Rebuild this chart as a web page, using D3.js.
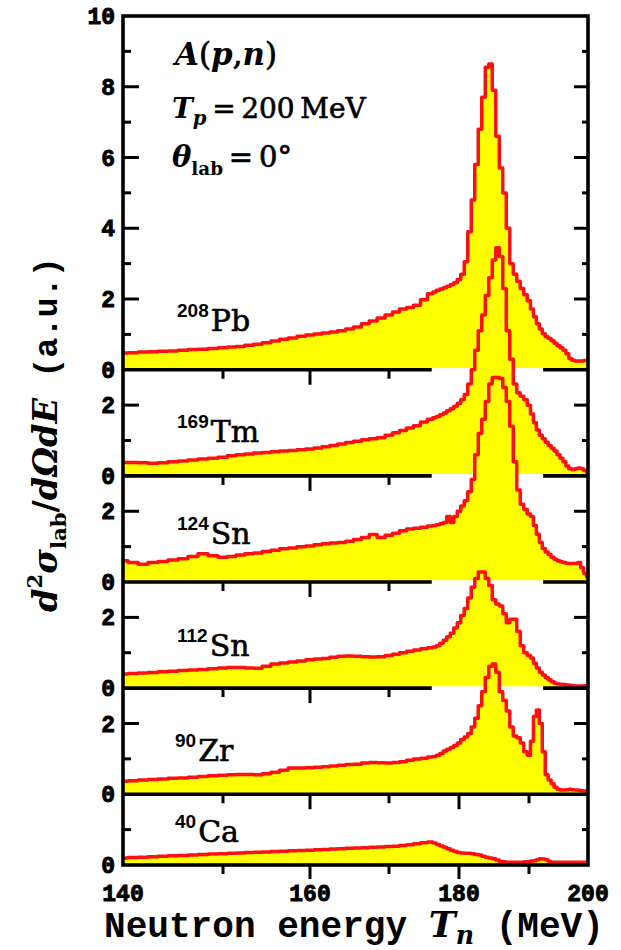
<!DOCTYPE html>
<html>
<head>
<meta charset="utf-8">
<script src="https://cdn.jsdelivr.net/npm/d3@7"></script>
<style>
  html, body { margin: 0; padding: 0; background: #fff; }
  svg { display: block; }
</style>
</head>
<body>
<svg id="chart" width="621" height="950"></svg>
<script>
// ---- data: neutron spectra A(p,n), Tp = 200 MeV, 0 deg ----
const energy = [
  140,141,142,143,144,145,146,147,148,149,150,151,152,153,154,155,156,157,158,159,
  160,161,162,163,164,165,166,167,168,169,170,171,172,173,174,175,176,
  176.5,177,177.5,178,178.5,179,179.5,180,180.5,181,181.5,182,182.5,183,183.5,184,
  184.5,185,185.5,186,186.5,187,187.5,188,188.5,189,189.5,190,190.5,191,191.5,192,
  192.5,193,193.5,194,194.5,195,195.5,196,196.5,197,197.5,198,198.5,199,199.5,200
];

const pb208 = [
  0.47,0.48,0.50,0.51,0.52,0.53,0.55,0.57,0.58,0.60,
  0.62,0.64,0.66,0.69,0.72,0.76,0.81,0.86,0.90,0.95,
  0.98,1.01,1.04,1.07,1.10,1.15,1.21,1.30,1.38,1.46,
  1.55,1.63,1.72,1.76,1.82,1.98,2.15,
  2.20,2.25,2.28,2.32,2.36,2.40,2.46,2.55,2.70,3.05,3.90,4.80,5.80,6.80,7.70,8.55,
  8.64,7.90,6.60,5.70,5.00,4.00,3.00,2.70,2.50,2.30,2.12,1.95,1.72,1.50,1.30,1.15,
  1.02,0.93,0.88,0.82,0.75,0.68,0.62,0.55,0.45,0.32,0.27,0.25,0.25,0.25,0.26,0.27
];

const tm169 = [
  0.38,0.38,0.37,0.36,0.37,0.40,0.42,0.45,0.48,0.50,
  0.53,0.57,0.60,0.62,0.65,0.66,0.68,0.70,0.72,0.74,
  0.76,0.79,0.82,0.86,0.90,0.94,0.98,1.02,1.05,1.08,
  1.15,1.22,1.28,1.35,1.42,1.52,1.60,
  1.64,1.68,1.73,1.78,1.84,1.90,1.97,2.05,2.15,2.30,2.60,3.00,3.55,4.10,4.55,5.10,
  5.60,6.10,6.45,6.20,5.30,4.10,3.30,2.60,2.35,2.25,2.15,2.00,1.75,1.50,1.30,1.15,
  1.05,0.95,0.86,0.78,0.70,0.60,0.50,0.40,0.28,0.20,0.18,0.20,0.22,0.20,0.15,0.10
];

const sn124 = [
  0.60,0.55,0.50,0.55,0.58,0.62,0.66,0.72,0.80,0.74,
  0.70,0.72,0.76,0.80,0.82,0.86,0.90,0.94,0.96,1.00,
  1.02,1.05,1.08,1.10,1.12,1.15,1.20,1.26,1.34,1.26,
  1.32,1.38,1.45,1.50,1.52,1.55,1.58,
  1.60,1.62,1.65,1.68,1.85,1.68,1.85,2.00,2.15,2.30,2.55,2.90,3.60,4.20,4.60,5.10,
  5.60,5.78,5.78,5.75,5.50,5.10,4.40,3.40,2.60,2.20,2.05,1.92,1.85,1.60,1.35,1.12,
  0.95,0.85,0.78,0.70,0.64,0.60,0.57,0.55,0.53,0.52,0.52,0.52,0.55,0.40,0.25,0.15
];

const sn112 = [
  0.40,0.41,0.43,0.44,0.46,0.48,0.50,0.51,0.53,0.55,
  0.57,0.58,0.58,0.57,0.56,0.62,0.68,0.71,0.74,0.77,
  0.80,0.82,0.84,0.87,0.90,0.91,0.90,0.89,0.88,0.89,
  0.92,0.96,1.00,1.04,1.08,1.11,1.14,
  1.16,1.20,1.27,1.35,1.45,1.55,1.70,1.85,2.05,2.25,2.55,2.85,3.10,3.28,3.28,3.10,
  2.90,2.50,2.38,2.32,2.10,1.85,1.95,1.95,1.60,1.20,1.00,0.92,0.85,0.70,0.57,0.45,
  0.37,0.30,0.24,0.18,0.14,0.12,0.11,0.10,0.09,0.08,0.07,0.06,0.06,0.06,0.07,0.07
];

const zr90 = [
  0.37,0.38,0.40,0.42,0.43,0.45,0.46,0.48,0.50,0.52,
  0.54,0.55,0.56,0.56,0.55,0.58,0.62,0.68,0.74,0.74,
  0.75,0.76,0.78,0.80,0.82,0.84,0.85,0.88,0.90,0.89,
  0.88,0.90,0.92,0.96,1.00,1.02,1.05,
  1.07,1.10,1.15,1.22,1.27,1.32,1.38,1.45,1.55,1.62,1.72,1.90,2.15,2.50,2.90,3.30,
  3.62,3.68,3.45,2.90,2.65,2.35,1.90,1.65,1.60,1.45,1.20,1.10,1.50,2.20,2.38,2.00,
  1.20,0.55,0.40,0.30,0.20,0.14,0.12,0.12,0.13,0.14,0.13,0.12,0.11,0.10,0.09,0.08
];

const ca40 = [
  0.20,0.21,0.22,0.23,0.25,0.26,0.27,0.28,0.30,0.31,
  0.32,0.33,0.34,0.35,0.36,0.37,0.38,0.39,0.40,0.41,
  0.42,0.43,0.44,0.45,0.46,0.47,0.48,0.49,0.50,0.51,
  0.52,0.53,0.55,0.57,0.60,0.63,0.65,
  0.62,0.58,0.54,0.50,0.46,0.42,0.38,0.35,0.34,0.33,0.33,0.32,0.30,0.28,0.25,0.22,
  0.20,0.18,0.14,0.10,0.09,0.08,0.08,0.08,0.08,0.08,0.09,0.10,0.11,0.12,0.15,0.18,
  0.17,0.15,0.10,0.08,0.08,0.08,0.08,0.08,0.08,0.08,0.08,0.08,0.08,0.08,0.08,0.08
];

const massNumbers = ["208", "169", "124", "112", "90", "40"];
const elements    = ["Pb", "Tm", "Sn", "Sn", "Zr", "Ca"];
const panelMax    = [10, 3, 3, 3, 3, 2];      // upper end of each panel's y range
const spectra     = [pb208, tm169, sn124, sn112, zr90, ca40];

const xTickValues  = [140, 150, 160, 170, 180, 190, 200];
const xTickLabels  = ["140", "160", "180", "200"];
const separatorGap = [176.1, 192.4];          // energy window kept open in the inner frame lines

// ---- layout ----
const svg = d3.select("#chart");
const plotLeft = 123, plotRight = 588, plotTop = 16;
const unit = 35.375;                          // pixels per y unit, shared by all panels
const frameW = 3.6;
const yellow = "#ffff00", red = "#ff1010";
const monoFont = "'Liberation Mono', 'Courier New', monospace";
const serifFont = "'DejaVu Serif', serif";

// horizontal axis (piecewise linear calibration of the energy axis)
const x = d3.scaleLinear()
  .domain(xTickValues)
  .range([123, 223, 310, 389, 459, 529, 588]);

// one y scale per panel, stacked from the top
let cursor = plotTop;
const panels = spectra.map((vals, i) => {
  const y0 = cursor + panelMax[i] * unit;
  const y = d3.scaleLinear().domain([0, panelMax[i]]).range([y0, cursor]);
  cursor = y0;
  return {
    y, y0, yMax: panelMax[i], mass: massNumbers[i], el: elements[i],
    data: energy.map((e, k) => ({ e, v: vals[k] }))
  };
});
const plotBottom = cursor;

const labelDrop = [39, 34, 38, 32, 33, 23];   // element label baseline above each zero line
const labelX    = [177, 177, 177, 177, 175, 175];

// ---- spectra (histograms) ----
panels.forEach((p, i) => {
  const area = d3.area().curve(d3.curveStep).x(d => x(d.e)).y0(p.y0).y1(d => p.y(d.v));
  const line = d3.line().curve(d3.curveStep).x(d => x(d.e)).y(d => p.y(d.v));
  svg.append("path").datum(p.data).attr("d", area).attr("fill", yellow);
  svg.append("path").datum(p.data).attr("d", line)
    .attr("fill", "none").attr("stroke", red).attr("stroke-width", 3.5)
    .attr("stroke-linejoin", "round");
  // inner frame line stays open (white) where the next spectrum's peak rises through it
  if (i < panels.length - 2) {
    svg.append("line")
      .attr("x1", x(separatorGap[0])).attr("x2", x(separatorGap[1]))
      .attr("y1", p.y0).attr("y2", p.y0)
      .attr("stroke", "#fff").attr("stroke-width", frameW);
  }
});

// ---- frame lines between panels ----
panels.forEach((p, i) => {
  if (i === panels.length - 1) return;
  const gapped = i < panels.length - 2;
  const segs = gapped
    ? [[140, separatorGap[0]], [separatorGap[1], 200]]
    : [[140, 200]];
  segs.forEach(s => {
    svg.append("line")
      .attr("x1", x(s[0])).attr("x2", x(s[1]))
      .attr("y1", p.y0).attr("y2", p.y0)
      .attr("stroke", "#000").attr("stroke-width", frameW);
  });
  const ticks = xTickValues.filter(v => v > 140 && v < 200 &&
    (!gapped || v < separatorGap[0] || v > separatorGap[1]));
  ticks.forEach(v => {
    const major = xTickLabels.includes(String(v));
    svg.append("line")
      .attr("x1", x(v)).attr("x2", x(v))
      .attr("y1", p.y0).attr("y2", p.y0 + (major ? 15 : 9))
      .attr("stroke", "#000").attr("stroke-width", 3);
  });
});

// bottom axis ticks and labels
xTickValues.filter(v => v > 140 && v < 200).forEach(v => {
  const major = xTickLabels.includes(String(v));
  svg.append("line")
    .attr("x1", x(v)).attr("x2", x(v))
    .attr("y1", plotBottom).attr("y2", plotBottom + (major ? 14 : 9))
    .attr("stroke", "#000").attr("stroke-width", 3);
});
xTickLabels.forEach(t => {
  svg.append("text")
    .attr("x", x(+t)).attr("y", plotBottom + 36)
    .attr("text-anchor", "middle")
    .attr("font-family", monoFont).attr("font-weight", "bold")
    .attr("stroke", "#000").attr("stroke-width", 0.9)
    .attr("font-size", 23).text(t);
});

// ---- y ticks (left and right, pointing inward) and left labels ----
panels.forEach((p, i) => {
  const vals = d3.range(1, p.yMax);
  vals.forEach(v => {
    const major = v % 2 === 0;
    svg.append("line").attr("x1", plotLeft).attr("x2", plotLeft + (major ? 16 : 8))
      .attr("y1", p.y(v)).attr("y2", p.y(v))
      .attr("stroke", "#000").attr("stroke-width", 3);
    svg.append("line").attr("x1", plotRight).attr("x2", plotRight - (major ? 14 : 6))
      .attr("y1", p.y(v)).attr("y2", p.y(v))
      .attr("stroke", "#000").attr("stroke-width", 3);
  });
  const labels = d3.range(0, p.yMax + 1, 2).filter(v => i === 0 || v < p.yMax);
  labels.forEach(v => {
    svg.append("text")
      .attr("x", plotLeft - 8).attr("y", p.y(v) + 8)
      .attr("text-anchor", "end")
      .attr("font-family", monoFont).attr("font-weight", "bold")
      .attr("stroke", "#000").attr("stroke-width", 0.9)
      .attr("font-size", 23).text(v);
  });
});

// outer frame
svg.append("rect")
  .attr("x", plotLeft).attr("y", plotTop)
  .attr("width", plotRight - plotLeft).attr("height", plotBottom - plotTop)
  .attr("fill", "none").attr("stroke", "#000").attr("stroke-width", frameW);

// ---- nuclide labels ----
panels.forEach((p, i) => {
  const t = svg.append("text")
    .attr("x", labelX[i]).attr("y", p.y0 - labelDrop[i]);
  t.append("tspan")
    .attr("font-family", "'Liberation Sans', Arial, sans-serif")
    .attr("font-weight", "bold").attr("font-size", 19)
    .attr("dy", -14).text(p.mass);
  t.append("tspan")
    .attr("font-family", serifFont).attr("font-size", 30)
    .attr("stroke", "#000").attr("stroke-width", 0.6)
    .attr("dx", 2).attr("dy", 14).text(p.el);
});

// ---- helper: scale a text group uniformly to a given width ----
function fit(g, width, tx, ty, rotate) {
  const bb = g.node().getBBox();
  const s = width / bb.width;
  g.attr("transform", `translate(${tx},${ty})${rotate ? ` rotate(${rotate})` : ""} scale(${s}) translate(${-bb.x},0)`);
}

// ---- reaction annotation ----
function annot(parts, width, tx, ty) {
  const g = svg.append("g");
  const t = g.append("text").attr("font-family", serifFont).attr("font-size", 30)
    .attr("stroke", "#000").attr("stroke-width", 0.7);
  parts.forEach(pt => {
    const s = t.append("tspan").text(pt.s);
    if (pt.it) s.attr("font-style", "italic");
    if (pt.b) s.attr("font-weight", "bold").attr("stroke-width", 0);
    if (pt.fs) s.attr("font-size", pt.fs);
    if (pt.dy) s.attr("dy", pt.dy);
    if (pt.dx) s.attr("dx", pt.dx);
  });
  fit(g, width, tx, ty);
}
annot([
  { s: "A", it: 1, b: 1 }, { s: "(" }, { s: "p", it: 1, b: 1 }, { s: "," },
  { s: "n", it: 1, b: 1 }, { s: ")" }
], 105, 172, 65);
annot([
  { s: "T", it: 1, b: 1 }, { s: "p", it: 1, b: 1, fs: 21, dy: 7 },
  { s: "=", dy: -7, dx: 6 }, { s: "200", dx: 6 }, { s: "MeV", dx: 6 }
], 195, 172, 118);
annot([
  { s: "θ", it: 1, b: 1 }, { s: "lab", b: 1, fs: 19, dy: 8 },
  { s: "=", dy: -8, dx: 6 }, { s: "0°", dx: 6 }
], 120, 172, 167);

// ---- axis titles ----
{
  const g = svg.append("g");
  const t = g.append("text").attr("font-size", 30).attr("font-family", serifFont);
  t.append("tspan").attr("font-family", monoFont).attr("font-weight", "bold").text("Neutron energy ");
  t.append("tspan").attr("font-style", "italic").attr("font-weight", "bold").text("T");
  t.append("tspan").attr("font-style", "italic").attr("font-weight", "bold")
    .attr("font-size", 21).attr("dy", 6).text("n");
  t.append("tspan").attr("font-family", monoFont).attr("font-weight", "bold")
    .attr("dy", -6).text(" (MeV)");
  fit(g, 500, 104, 937);
}
{
  const g = svg.append("g");
  const t = g.append("text").attr("font-size", 30).attr("font-family", serifFont)
    .attr("font-weight", "bold");
  t.append("tspan").attr("font-style", "italic").text("d");
  t.append("tspan").attr("font-size", 19).attr("dy", -13).text("2");
  t.append("tspan").attr("font-style", "italic").attr("dy", 13).text("σ");
  t.append("tspan").attr("font-size", 19).attr("dy", 8).text("lab");
  t.append("tspan").attr("dy", -8).text("/");
  t.append("tspan").attr("font-style", "italic").text("dΩdE");
  t.append("tspan").attr("font-family", monoFont).text(" (a.u.)");
  fit(g, 355, 57, 612, -90);
}
</script>
</body>
</html>
